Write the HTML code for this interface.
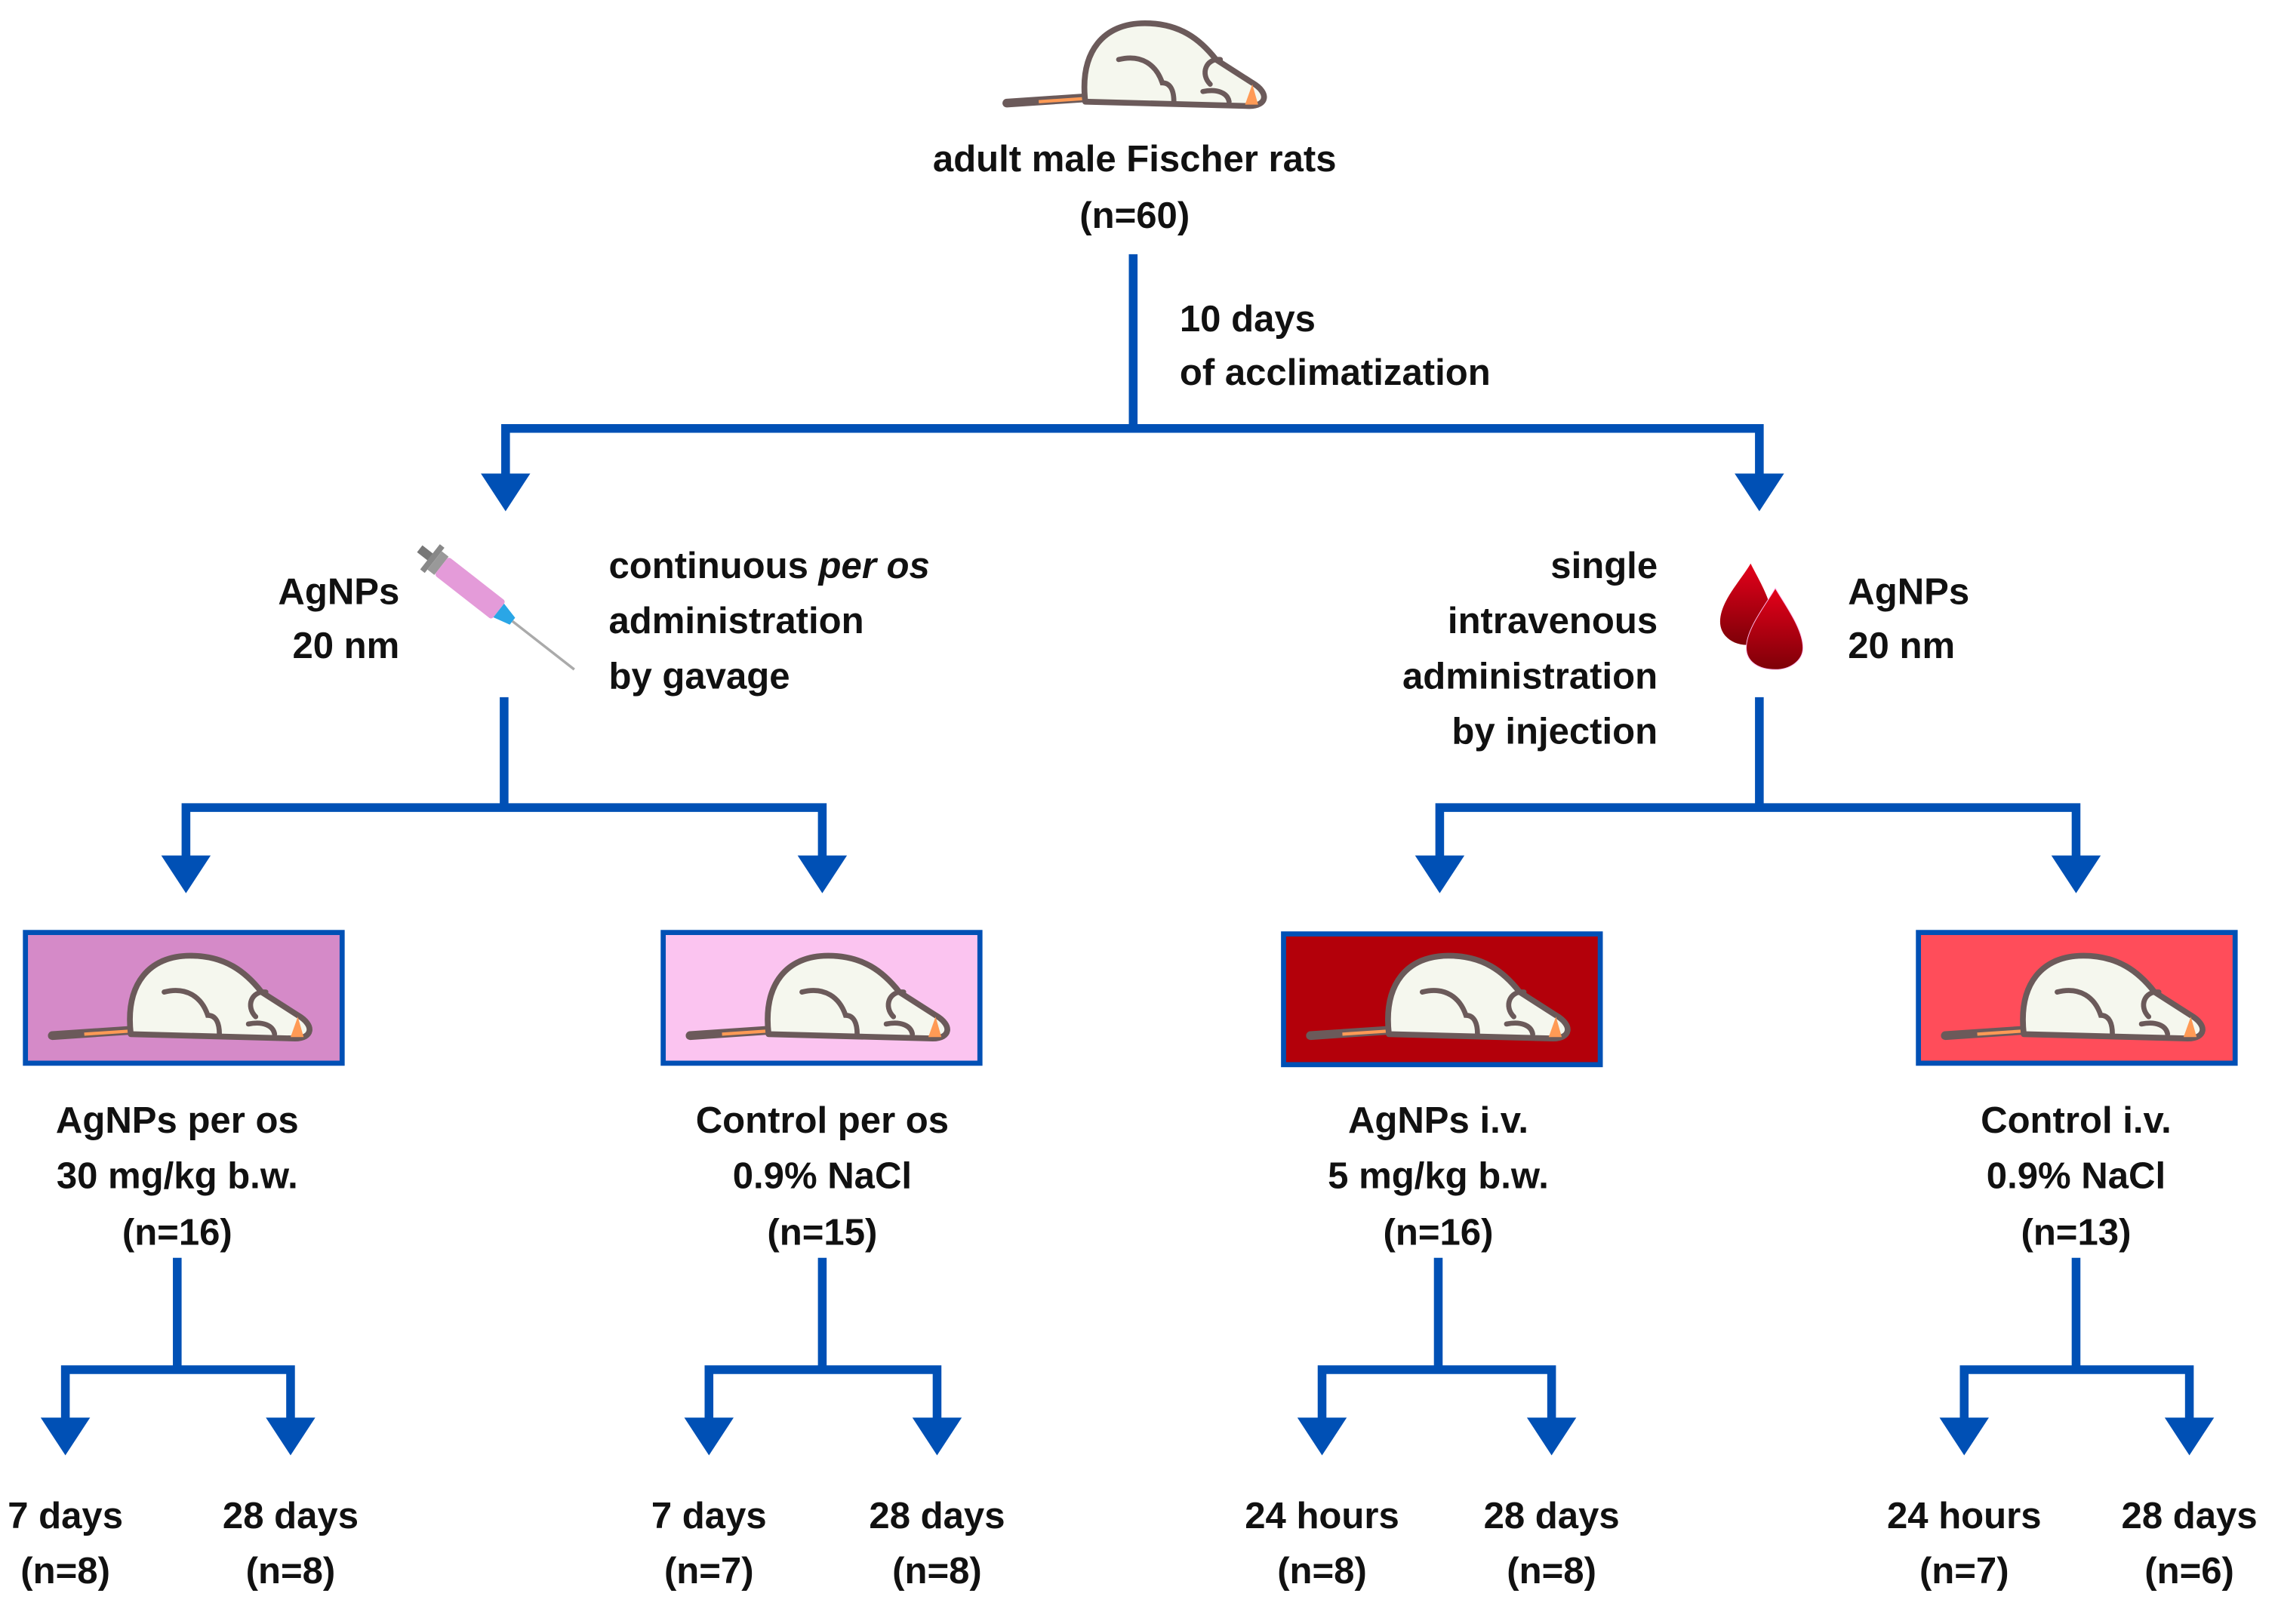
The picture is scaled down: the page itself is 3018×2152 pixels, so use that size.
<!DOCTYPE html>
<html><head><meta charset="utf-8"><style>
html,body{margin:0;padding:0;background:#fff;}
svg{display:block;}
text{font-family:"Liberation Sans",Arial,sans-serif;font-weight:bold;font-size:25.5px;fill:#111;}
</style></head><body>
<svg width="3018" height="2152" viewBox="0 0 1568 1118.1" preserveAspectRatio="none" xmlns="http://www.w3.org/2000/svg">
<defs>
<g id="rat">
  <line x1="3" y1="56" x2="62" y2="52" stroke="#6b5a5a" stroke-width="6" stroke-linecap="round"/>
  <line x1="25" y1="55" x2="62" y2="52.5" stroke="#ff9a55" stroke-width="2.2"/>
  <path d="M57,55 C53,20 70,1 98,1 C122,1 136,12 147,26 L172,42 C184,49 182,58 170,58 Z" fill="#f5f7ee" stroke="#6b5a5a" stroke-width="4" stroke-linejoin="round"/>
  <path d="M172,43 L176,57 L167,57 Z" fill="#ff9a55"/>
  <path d="M80,26 C96,22 106,30 110,42 C116,42 118,48 118,55" fill="none" stroke="#6b5a5a" stroke-width="3.5" stroke-linecap="round"/>
  <path d="M150,26 C140,25 136,36 143,43" fill="none" stroke="#6b5a5a" stroke-width="3.5" stroke-linecap="round"/>
  <path d="M138,48 C148,46 155,49 156,55" fill="none" stroke="#6b5a5a" stroke-width="3.5" stroke-linecap="round"/>
</g>
<g id="arr"><polygon points="-17,0 17,0 0,26" fill="#0050B5"/></g>
<linearGradient id="bd" x1="0" y1="0" x2="0" y2="1"><stop offset="0" stop-color="#e5001a"/><stop offset="1" stop-color="#7e0008"/></linearGradient>
</defs>

<g stroke="#0050B5" stroke-width="6" fill="none">
  <path d="M780,175 V295 M348,295 H1211 M348,292 V328 M1211,292 V328"/>
  <path d="M347,480 V556 M128,556 H566 M128,553 V592 M566,553 V592"/>
  <path d="M1211,480 V556 M991,556 H1429 M991,553 V592 M1429,553 V592"/>
  <path d="M122,866 V943 M45,943 H200 M45,940 V978 M200,940 V978"/>
  <path d="M566,866 V943 M488,943 H645 M488,940 V978 M645,940 V978"/>
  <path d="M990,866 V943 M910,943 H1068 M910,940 V978 M1068,940 V978"/>
  <path d="M1429,866 V943 M1352,943 H1507 M1352,940 V978 M1507,940 V978"/>
</g>
<use href="#arr" x="348" y="326"/><use href="#arr" x="1211" y="326"/>
<use href="#arr" x="128" y="589"/><use href="#arr" x="566" y="589"/>
<use href="#arr" x="991" y="589"/><use href="#arr" x="1429" y="589"/>
<use href="#arr" x="45" y="976"/><use href="#arr" x="200" y="976"/>
<use href="#arr" x="488" y="976"/><use href="#arr" x="645" y="976"/>
<use href="#arr" x="910" y="976"/><use href="#arr" x="1068" y="976"/>
<use href="#arr" x="1352" y="976"/><use href="#arr" x="1507" y="976"/>

<use href="#rat" x="690" y="15"/>
<text x="781" y="118" text-anchor="middle">adult male Fischer rats</text>
<text x="781" y="157" text-anchor="middle">(n=60)</text>
<text x="812" y="228">10 days</text>
<text x="812" y="265">of acclimatization</text>

<text x="275" y="416" text-anchor="end">AgNPs</text>
<text x="275" y="453" text-anchor="end">20 nm</text>
<g transform="translate(348,424) rotate(38)">
  <rect x="-75" y="-3" width="10" height="6" fill="#777"/>
  <rect x="-66" y="-11" width="4" height="22" fill="#888"/>
  <rect x="-62" y="-8" width="6" height="16" fill="#999"/>
  <rect x="-56" y="-8" width="50" height="16" fill="#e49bd9" rx="2"/>
  <polygon points="-6,-6 6,-3 6,3 -6,6" fill="#2aa6e6"/>
  <line x1="6" y1="0" x2="60" y2="0" stroke="#aaa" stroke-width="1.8"/>
</g>
<text x="419" y="398">continuous <tspan font-style="italic">per os</tspan></text>
<text x="419" y="436">administration</text>
<text x="419" y="474">by gavage</text>

<text x="1141" y="398" text-anchor="end">single</text>
<text x="1141" y="436" text-anchor="end">intravenous</text>
<text x="1141" y="474" text-anchor="end">administration</text>
<text x="1141" y="512" text-anchor="end">by injection</text>
<path d="M1205,388 C1198,400 1184,414 1184,428 C1184,438 1193,444 1202,444 C1212,444 1220,437 1220,428 C1220,414 1211,400 1205,388 Z" fill="url(#bd)"/>
<path d="M1222,405 C1215,417 1202,433 1202,446 C1202,456 1211,461 1222,461 C1232,461 1241,455 1241,446 C1241,433 1229,417 1222,405 Z" fill="url(#bd)" stroke="#fbe" stroke-width="0.5"/>
<text x="1272" y="416">AgNPs</text>
<text x="1272" y="453">20 nm</text>

<g stroke="#0050B5" stroke-width="3.5">
  <rect x="17.5" y="642" width="218" height="90" fill="#D58AC8"/>
  <rect x="456.5" y="642" width="218" height="90" fill="#FBC4F0"/>
  <rect x="883.5" y="643" width="218" height="90" fill="#B3000A"/>
  <rect x="1320.5" y="642" width="218" height="90" fill="#FF4D5A"/>
</g>
<use href="#rat" x="33" y="657"/>
<use href="#rat" x="472" y="657"/>
<use href="#rat" x="899" y="657"/>
<use href="#rat" x="1336" y="657"/>

<g text-anchor="middle">
<text x="122" y="780">AgNPs per os</text><text x="122" y="818">30 mg/kg b.w.</text><text x="122" y="857">(n=16)</text>
<text x="566" y="780">Control per os</text><text x="566" y="818">0.9% NaCl</text><text x="566" y="857">(n=15)</text>
<text x="990" y="780">AgNPs i.v.</text><text x="990" y="818">5 mg/kg b.w.</text><text x="990" y="857">(n=16)</text>
<text x="1429" y="780">Control i.v.</text><text x="1429" y="818">0.9% NaCl</text><text x="1429" y="857">(n=13)</text>

<text x="45" y="1052">7 days</text><text x="45" y="1090">(n=8)</text>
<text x="200" y="1052">28 days</text><text x="200" y="1090">(n=8)</text>
<text x="488" y="1052">7 days</text><text x="488" y="1090">(n=7)</text>
<text x="645" y="1052">28 days</text><text x="645" y="1090">(n=8)</text>
<text x="910" y="1052">24 hours</text><text x="910" y="1090">(n=8)</text>
<text x="1068" y="1052">28 days</text><text x="1068" y="1090">(n=8)</text>
<text x="1352" y="1052">24 hours</text><text x="1352" y="1090">(n=7)</text>
<text x="1507" y="1052">28 days</text><text x="1507" y="1090">(n=6)</text>
</g>
</svg>
</body></html>
